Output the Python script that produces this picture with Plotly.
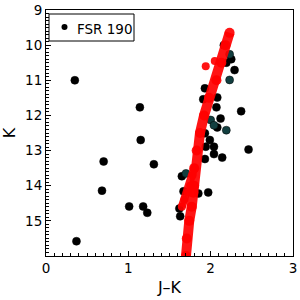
import plotly.graph_objects as go

# Observed stars (black)
star_jk = [0.35, 1.14, 1.15, 0.70, 0.68, 1.01, 1.18, 1.23, 0.37, 1.31, 1.65, 1.67, 1.85, 1.97,
           1.62, 1.63, 1.93, 2.04, 2.14, 2.46, 1.91, 2.08, 2.07, 2.37, 2.12, 2.08, 1.93, 1.99,
           1.94, 2.04, 2.16, 2.25, 2.19, 2.29, 1.93]
star_k = [11.0, 11.77, 12.7, 13.31, 14.14, 14.59, 14.59, 14.77, 15.58, 13.39, 13.73, 14.16, 14.22, 14.19,
          14.65, 14.87, 13.24, 13.1, 13.2, 12.97, 11.54, 11.49, 11.77, 11.88, 12.09, 12.34, 12.51, 12.70,
          12.89, 12.89, 10.0, 10.4, 10.5, 10.71, 11.23]

# Stars drawn in dark teal
teal_jk = [2.00, 2.04, 2.19, 2.23, 2.23, 1.70]
teal_k = [12.13, 12.28, 12.42, 10.26, 10.99, 13.65]

# Isochrone (red): main track, lower left branch, and two detached points
iso_jk = [1.70, 1.71, 1.74, 1.77, 1.79, 1.80, 1.80, 1.83, 1.87, 1.92, 1.98, 2.07, 2.13, 2.18, 2.23]
iso_k = [16.0, 15.5, 15.0, 14.6, 14.2, 14.0, 13.5, 13.0, 12.5, 12.0, 11.5, 11.0, 10.5, 10.0, 9.65]
branch_jk = [1.65, 1.68, 1.72, 1.75, 1.78, 1.80]
branch_k = [14.6, 14.4, 14.2, 14.0, 13.7, 13.5]
extra_jk = [1.94, 2.05]
extra_k = [10.6, 10.45]

x_ticks = [0, 1, 2, 3]
y_ticks = [9, 10, 11, 12, 13, 14, 15]
legend_label = "FSR 190"

RED = "rgba(255,0,0,0.92)"

fig = go.Figure()
fig.add_trace(go.Scatter(x=star_jk, y=star_k, mode="markers", name=legend_label, showlegend=False,
                         marker=dict(color="black", size=8, line=dict(color="black", width=0.5))))
fig.add_trace(go.Scatter(x=teal_jk, y=teal_k, mode="markers", showlegend=False,
                         marker=dict(color="#123f40", size=8, line=dict(color="black", width=0.5))))
for xs, ys, w in [(iso_jk, iso_k, 10), (branch_jk, branch_k, 8)]:
    fig.add_trace(go.Scatter(x=xs, y=ys, mode="lines+markers", showlegend=False,
                             line=dict(color=RED, width=w),
                             marker=dict(color=RED, size=w)))
fig.add_trace(go.Scatter(x=extra_jk, y=extra_k, mode="markers", showlegend=False,
                         marker=dict(color=RED, size=8)))

FW = FH = 300
# plot area in pixels: left 46, right 293, top 10, bottom 256
L, R, T, B = 46, 293, 10, 256
W, H = R - L, B - T


def px(xs):
    return (xs - L) / W


def py(ys):
    return 1 - (ys - T) / H


# Legend box drawn as decoration
fig.add_shape(type="rect", xref="paper", yref="paper", x0=px(49), x1=px(134), y0=py(41), y1=py(14),
              line=dict(color="black", width=1), fillcolor="white", layer="above")
fig.add_shape(type="circle", xref="paper", yref="paper", x0=px(61.5), x1=px(67.5), y0=py(30), y1=py(24),
              line=dict(color="black", width=0), fillcolor="black", layer="above")
fig.add_annotation(xref="paper", yref="paper", x=px(75), y=py(28.5), xanchor="left", yanchor="middle",
                   text=legend_label, showarrow=False, font=dict(size=13.5, color="black"))

axis_common = dict(showgrid=False, zeroline=False, showline=True, linecolor="black", linewidth=1,
                   mirror=True, ticks="inside", ticklen=5, tickcolor="black", automargin=False,
                   tickfont=dict(size=13.5, color="black"))
fig.update_layout(
    width=FW, height=FH,
    margin=dict(l=L, r=FW - R, t=T, b=FH - B),
    paper_bgcolor="white", plot_bgcolor="white",
    font=dict(family="DejaVu Sans", size=13.5, color="black"),
    xaxis=dict(range=[0, 3], tickvals=x_ticks, title=dict(text="J–K", standoff=6),
               minor=dict(ticks="inside", ticklen=3, dtick=0.1, tickcolor="black"), **axis_common),
    yaxis=dict(range=[16, 9], tickvals=y_ticks, title=dict(text="K", standoff=10),
               minor=dict(ticks="inside", ticklen=3, dtick=0.1, tickcolor="black"), **axis_common),
    showlegend=False,
)
fig.write_html("out.html", config={"displayModeBar": False},
               post_script="document.body.style.margin='0';document.body.style.overflow='hidden';")
